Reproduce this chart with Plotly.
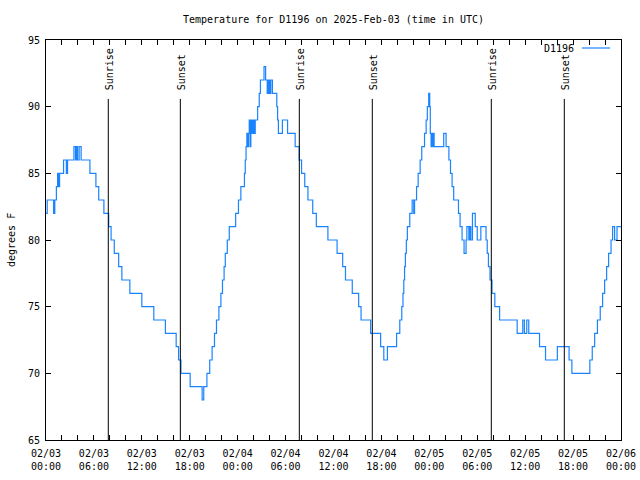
import pandas as pd
import plotly.graph_objects as go

# ---- data (hours since 2025-02-03 00:00 UTC, temperature in degrees F) ----
start = pd.Timestamp("2025-02-03 00:00")

hours = [0.0, 0.15, 0.95, 1.1, 1.3, 1.45, 1.55, 1.7, 2.2, 2.55, 2.7, 3.5, 3.7, 3.85, 3.95, 4.15, 4.4,
         5.5, 6.25, 6.6, 7.25, 7.85, 8.15, 8.55, 9.1, 9.5, 10.5, 12.0, 13.5, 14.95, 16.3, 16.6, 16.9,
         18.05, 19.55, 19.75, 20.15, 20.5, 20.8, 21.1, 21.35, 21.65, 21.9, 22.1, 22.3, 22.45, 22.7,
         22.95, 23.75, 24.1, 24.4, 24.85, 24.95, 25.05, 25.15, 25.25, 25.35, 25.45, 25.55, 25.65,
         25.75, 25.9, 26.05, 26.2, 26.5, 26.7, 26.85, 27.3, 27.5, 27.7, 27.85, 28.0, 28.15, 28.35,
         28.9, 29.0, 29.1, 29.6, 30.25, 31.2, 31.7, 32.0, 32.4, 32.8, 33.4, 33.85, 35.3, 36.45,
         37.15, 37.5, 38.35, 39.15, 39.45, 40.65, 41.9, 42.3, 42.75, 43.9, 44.3, 44.55, 44.7, 44.8,
         44.9, 45.0, 45.12, 45.25, 45.55, 45.85, 46.05, 46.15, 46.4, 46.6, 46.85, 47.05, 47.4, 47.6,
         47.75, 47.92, 48.05, 48.12, 48.22, 48.32, 48.45, 48.5, 48.6, 49.8, 50.1, 50.45, 50.65,
         50.85, 51.05, 51.65, 51.85, 52.1, 52.35, 52.6, 52.7, 52.95, 53.05, 53.2, 53.4, 53.75, 54.0,
         54.45, 55.1, 55.25, 55.4, 55.6, 55.85, 56.2, 56.8, 59.0, 59.7, 59.9, 60.2, 60.45, 61.8,
         62.55, 64.03, 65.5, 65.85, 68.1, 68.4, 68.7, 69.05, 69.4, 69.7, 69.95, 70.2, 70.45, 70.75,
         70.95, 71.2, 71.5, 72.0]

temps = [82, 83, 82, 83, 84, 85, 84, 85, 86, 85, 86, 87, 86, 87, 86, 87, 86,
         85, 84, 83, 82, 81, 80, 79, 78, 77, 76, 75, 74, 73, 72, 71, 70,
         69, 68, 69, 70, 71, 72, 73, 74, 75, 76, 77, 78, 79, 80,
         81, 82, 83, 84, 85, 86, 87, 88, 87, 88, 89, 87, 89,
         88, 89, 88, 89, 90, 91, 92, 93, 92, 91, 92, 91, 92, 91,
         90, 89, 88, 89, 88, 87, 86, 85, 84, 83, 82, 81, 80, 79,
         78, 77, 76, 75, 74, 73, 72, 71, 72, 73, 74, 75, 76, 77,
         78, 79, 80, 81, 82, 83, 82, 83, 84, 85, 86, 87, 88, 89,
         90, 91, 90, 88, 87, 88, 87, 88, 87, 88, 87, 86, 85,
         84, 83, 82, 81, 80, 79, 80, 81, 80, 81, 80, 82, 81, 80,
         81, 80, 79, 78, 77, 76, 75, 74, 73, 74, 73, 74, 73, 72,
         71, 72, 71, 70, 71, 72, 73, 74, 75, 76, 77, 78, 79, 80,
         81, 80, 81, 81]

sun_hours = [7.80, 16.82, 31.72, 40.86, 55.76, 64.90]
sun_labels = ["Sunrise", "Sunset", "Sunrise", "Sunset", "Sunrise", "Sunset"]

tick_hours = list(range(0, 73, 2))
label_hours = [0, 6, 12, 18, 24, 30, 36, 42, 48, 54, 60, 66, 72]
tick_labels = ["02/03<br>00:00", "02/03<br>06:00", "02/03<br>12:00", "02/03<br>18:00",
               "02/04<br>00:00", "02/04<br>06:00", "02/04<br>12:00", "02/04<br>18:00",
               "02/05<br>00:00", "02/05<br>06:00", "02/05<br>12:00", "02/05<br>18:00",
               "02/06<br>00:00"]
y_ticks = [65, 70, 75, 80, 85, 90, 95]

series_name = "D1196"
title_text = "Temperature for D1196 on 2025-Feb-03 (time in UTC)"

# ---- build ----
def t(h):
    return start + pd.Timedelta(hours=h)

times = [t(h) for h in hours]
tickvals = [t(h) for h in tick_hours]
label_map = dict(zip(label_hours, tick_labels))
ticktext = [label_map.get(h, "") for h in tick_hours]

FONT = "DejaVu Sans Mono"
LINE_COLOR = "#1a84ff"

fig = go.Figure()
fig.add_trace(go.Scatter(x=times, y=temps, mode="lines", name=series_name,
                         line=dict(color=LINE_COLOR, width=1.2, shape="hv"),
                         showlegend=False, hoverinfo="skip"))

shapes = []
annotations = []
for h, lab in zip(sun_hours, sun_labels):
    shapes.append(dict(type="line", xref="x", yref="y", x0=t(h), x1=t(h), y0=65, y1=90.58,
                       line=dict(color="black", width=1)))
    annotations.append(dict(x=t(h), y=91.1, xref="x", yref="y", text=lab, showarrow=False,
                            textangle=-90, xanchor="center", yanchor="bottom", xshift=1,
                            font=dict(family=FONT, size=10, color="black")))

# manual legend (text then line sample, gnuplot style)
annotations.append(dict(x=(576 - 46) / 575, y=1 - 8 / 400, xref="paper", yref="paper",
                        text=series_name, showarrow=False, xanchor="right", yanchor="middle",
                        font=dict(family=FONT, size=10, color="black")))
shapes.append(dict(type="line", xref="paper", yref="paper", x0=(582 - 46) / 575, x1=(610 - 46) / 575,
                   y0=1 - 8 / 400, y1=1 - 8 / 400, line=dict(color=LINE_COLOR, width=1.2)))

# y-axis title
annotations.append(dict(x=(11 - 46) / 575, y=0.5, xref="paper", yref="paper", text="degrees F",
                        showarrow=False, textangle=-90, xanchor="center", yanchor="middle",
                        font=dict(family=FONT, size=10, color="black")))

fig.update_layout(
    width=640, height=480,
    margin=dict(l=46, r=19, t=40, b=40, autoexpand=False),
    paper_bgcolor="white", plot_bgcolor="white",
    font=dict(family=FONT, size=10, color="black"),
    title=dict(text=title_text, x=(333.5) / 640, xanchor="center", y=1 - 19 / 480,
               yanchor="middle", yref="container", font=dict(family=FONT, size=10, color="black")),
    shapes=shapes, annotations=annotations,
    showlegend=False,
)
fig.update_xaxes(type="date", range=[t(0), t(72)], tickmode="array", tickvals=tickvals,
                 ticktext=ticktext, ticks="inside", ticklen=5, tickcolor="black", tickwidth=1,
                 showline=True, linecolor="black", linewidth=1, mirror="allticks",
                 showgrid=False, zeroline=False, ticklabelstandoff=4,
                 tickfont=dict(family=FONT, size=10, color="black"))
fig.update_yaxes(range=[65, 95], tickmode="array", tickvals=y_ticks,
                 ticktext=[str(v) for v in y_ticks],
                 ticks="inside", ticklen=5, tickcolor="black", tickwidth=1,
                 showline=True, linecolor="black", linewidth=1, mirror="allticks",
                 showgrid=False, zeroline=False, ticklabelstandoff=3,
                 tickfont=dict(family=FONT, size=10, color="black"))

fig.write_html("out.html")
